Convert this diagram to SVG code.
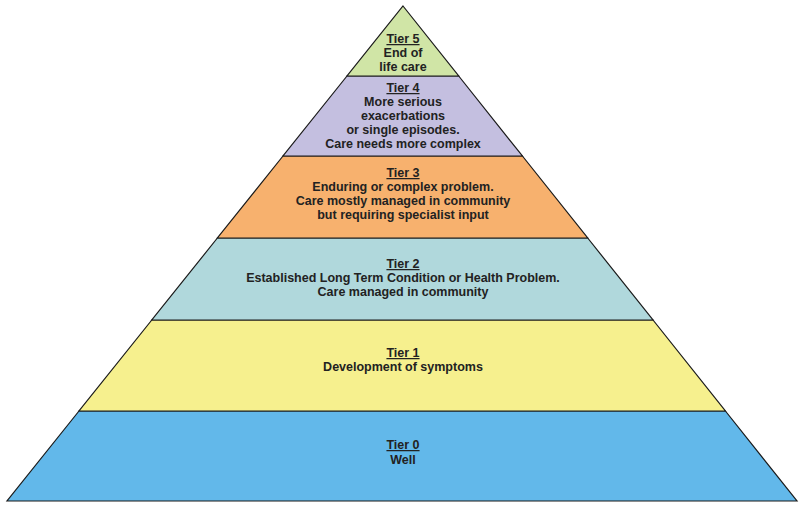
<svg xmlns="http://www.w3.org/2000/svg" width="806" height="507" viewBox="0 0 806 507">
<style>
.t{stroke:#1a1a1a;stroke-width:1.2}
text{font-family:"Liberation Sans",Arial,sans-serif;font-size:12.5px;font-weight:bold;fill:#222;text-anchor:middle}
.u{text-decoration:underline}
</style>
<rect width="806" height="507" fill="#fff"/>
<g id="tier0"><polygon class="t" fill="#62b8ea" points="79,411 725.4,411 797,501 7,501"/>
<text x="403" y="449" class="u">Tier 0</text><text x="403" y="464">Well</text></g>
<g id="tier1"><polygon class="t" fill="#f6f08e" points="151.8,320 653,320 725.4,411 79,411"/>
<text x="403" y="357" class="u">Tier 1</text><text x="403" y="371">Development of symptoms</text></g>
<g id="tier2"><polygon class="t" fill="#b0d8dc" points="217.4,238 587.7,238 653,320 151.8,320"/>
<text x="403" y="268" class="u">Tier 2</text><text x="403" y="282">Established Long Term Condition or Health Problem.</text><text x="403" y="296">Care managed in community</text></g>
<g id="tier3"><polygon class="t" fill="#f7b16e" points="283,156 522.4,156 587.7,238 217.4,238"/>
<text x="403" y="177" class="u">Tier 3</text><text x="403" y="191">Enduring or complex problem.</text><text x="403" y="205">Care mostly managed in community</text><text x="403" y="219">but requiring specialist input</text></g>
<g id="tier4"><polygon class="t" fill="#c4bfe0" points="347,76 458.7,76 522.4,156 283,156"/>
<text x="403" y="92" class="u">Tier 4</text><text x="403" y="106">More serious</text><text x="403" y="120">exacerbations</text><text x="403" y="134">or single episodes.</text><text x="403" y="148">Care needs more complex</text></g>
<g id="tier5"><polygon class="t" fill="#d0e5a6" points="403,6 458.7,76 347,76"/>
<text x="403" y="43" class="u">Tier 5</text><text x="403" y="57">End of</text><text x="403" y="71">life care</text></g>
<g id="connectors"/>
</svg>
